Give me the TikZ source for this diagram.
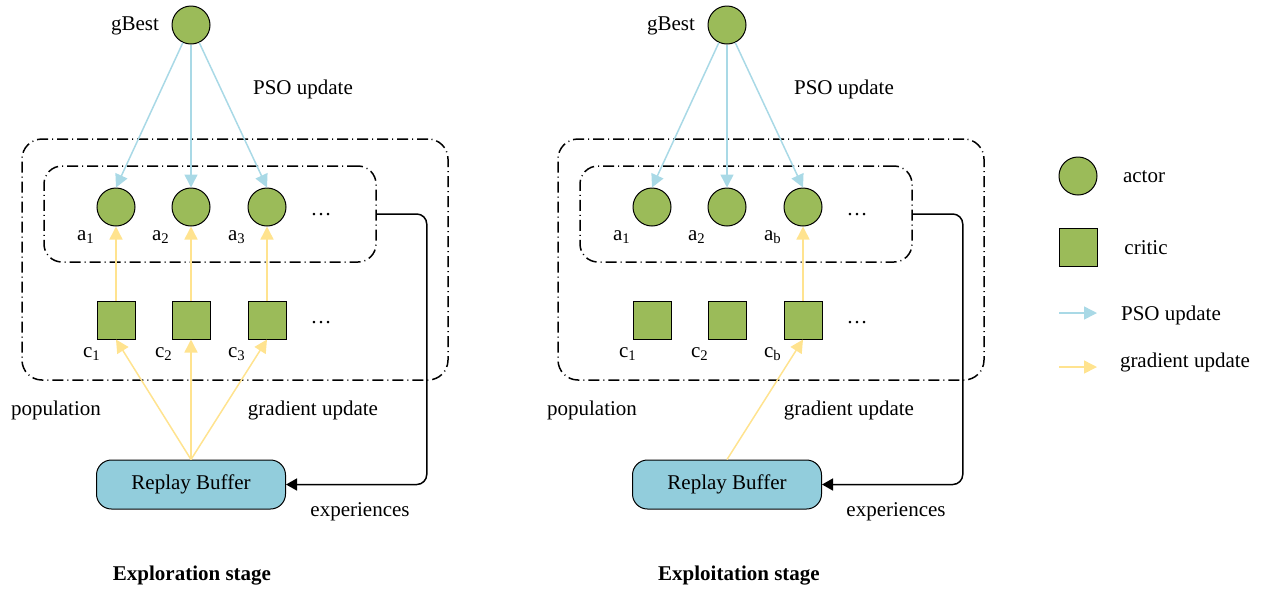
\documentclass[tikz,border=0pt]{standalone}
\usepackage{fontspec}
\setmainfont{Liberation Serif}
\usetikzlibrary{arrows.meta}
\definecolor{leafgreen}{HTML}{9BBB59}
\definecolor{psoblue}{HTML}{A9D9E6}
\definecolor{gradyellow}{HTML}{FFE38F}
\definecolor{bufblue}{HTML}{92CDDC}
\begin{document}
\begin{tikzpicture}
            \tikzset{x=0.5pt, y=-0.5pt, every node/.style={font=\fontsize{10.5}{12.6}\selectfont}}
            \tikzstyle{actor}=[circle, draw, fill=leafgreen, minimum size=19pt, inner sep=0pt, line width=0.5pt]
            \tikzstyle{critic}=[rectangle, draw, fill=leafgreen, minimum size=19pt, inner sep=0pt, line width=0.5pt]
            \tikzstyle{buffer}=[rectangle, rounded corners=7.5pt, draw, fill=bufblue, minimum width=94.5pt, minimum height=24.5pt, line width=0.5pt]
            \tikzstyle{group}=[rectangle, draw, line width=0.75pt, dash pattern=on 5.5pt off 2pt on 0.5pt off 2pt]
            \tikzstyle{pso}=[draw=psoblue, line width=0.75pt, -{Triangle[length=6.5pt, width=6.5pt]}]
            \tikzstyle{grad}=[draw=gradyellow, line width=0.75pt, -{Triangle[length=6.5pt, width=6.5pt]}]
            \tikzstyle{flow}=[draw, line width=0.75pt, rounded corners=5pt, -{Triangle[length=5.5pt, width=6pt]}]
            \useasboundingbox (0,0) rectangle (1262,591);

            % exploration stage
            \draw (235, 259.5)  node[group, rounded corners=10pt, minimum width=213pt, minimum height=120.5pt] (pop0) {};
            \draw (210, 214)    node[group, rounded corners=9pt, minimum width=166pt, minimum height=48pt] (act0) {};

            \draw (191, 25)     node[actor]     (g0)    {};
            \draw (135, 26)     node            (gl0)   {gBest};
            \draw (303, 89)     node            (pl0)   {PSO update};

            \draw (116, 207)    node[actor]     (a01)   {};
            \draw (191, 207)    node[actor]     (a02)   {};
            \draw (267, 207)    node[actor]     (a03)   {};
            \draw (321, 215)    node            (ad0)   {\ldots};
            \draw (86, 237)     node            (al01)  {a\textsubscript{1}};
            \draw (161, 237)    node            (al02)  {a\textsubscript{2}};
            \draw (237, 237)    node            (al03)  {a\textsubscript{3}};

            \draw (116, 320)    node[critic]    (c01)   {};
            \draw (191, 320)    node[critic]    (c02)   {};
            \draw (267, 320)    node[critic]    (c03)   {};
            \draw (321, 323)    node            (cd0)   {\ldots};
            \draw (92, 354)     node            (cl01)  {c\textsubscript{1}};
            \draw (164, 354)    node            (cl02)  {c\textsubscript{2}};
            \draw (237, 354)    node            (cl03)  {c\textsubscript{3}};

            \draw (56, 410)     node            (popl0) {population};
            \draw (313, 410)    node            (gul0)  {gradient update};
            \draw (191, 484.5)  node[buffer]    (buf0)  {Replay Buffer};
            \draw (360, 512)    node            (exl0)  {experiences};
            \draw (192, 576)    node            (st0)   {\textbf{Exploration stage}};

            \draw [pso]     (g0) -- (a01.north);
            \draw [pso]     (g0) -- (a02);
            \draw [pso]     (g0) -- (a03.north);
            \draw [grad]    (c01) -- (a01);
            \draw [grad]    (c02) -- (a02);
            \draw [grad]    (c03) -- (a03);
            \draw [grad]    (buf0.north) -- (c01.south);
            \draw [grad]    (buf0.north) -- (c02.south);
            \draw [grad]    (buf0.north) -- (c03.south);
            \draw [flow]    (act0.east) -- ++(50, 0) |- (buf0.east);

            % exploitation stage
            \draw (771, 259.5)  node[group, rounded corners=10pt, minimum width=213pt, minimum height=120.5pt] (pop1) {};
            \draw (746, 214)    node[group, rounded corners=9pt, minimum width=166pt, minimum height=48pt] (act1) {};

            \draw (727, 25)     node[actor]     (g1)    {};
            \draw (671, 26)     node            (gl1)   {gBest};
            \draw (844, 89)     node            (pl1)   {PSO update};

            \draw (652, 207)    node[actor]     (a11)   {};
            \draw (727, 207)    node[actor]     (a12)   {};
            \draw (803, 207)    node[actor]     (a13)   {};
            \draw (857, 215)    node            (ad1)   {\ldots};
            \draw (622, 237)    node            (al11)  {a\textsubscript{1}};
            \draw (697, 237)    node            (al12)  {a\textsubscript{2}};
            \draw (773, 237)    node            (al13)  {a\textsubscript{b}};

            \draw (652, 320)    node[critic]    (c11)   {};
            \draw (727, 320)    node[critic]    (c12)   {};
            \draw (803, 320)    node[critic]    (c13)   {};
            \draw (857, 323)    node            (cd1)   {\ldots};
            \draw (628, 354)    node            (cl11)  {c\textsubscript{1}};
            \draw (700, 354)    node            (cl12)  {c\textsubscript{2}};
            \draw (773, 354)    node            (cl13)  {c\textsubscript{b}};

            \draw (592, 410)    node            (popl1) {population};
            \draw (849, 410)    node            (gul1)  {gradient update};
            \draw (727, 484.5)  node[buffer]    (buf1)  {Replay Buffer};
            \draw (896, 512)    node            (exl1)  {experiences};
            \draw (739, 576)    node            (st1)   {\textbf{Exploitation stage}};

            \draw [pso]     (g1) -- (a11.north);
            \draw [pso]     (g1) -- (a12);
            \draw [pso]     (g1) -- (a13.north);
            \draw [grad]    (c13) -- (a13);
            \draw [grad]    (buf1.north) -- (c13.south);
            \draw [flow]    (act1.east) -- ++(50, 0) |- (buf1.east);

            % legend
            \draw (1078, 176)   node[actor]     (la)    {};
            \draw (1144, 177)   node            (lal)   {actor};
            \draw (1078, 247)   node[critic]    (lc)    {};
            \draw (1146, 248)   node            (lcl)   {critic};
            \coordinate (lp0) at (1059, 313);
            \coordinate (lp1) at (1097, 313);
            \draw (1171, 315)   node            (lpl)   {PSO update};
            \coordinate (lg0) at (1059, 367);
            \coordinate (lg1) at (1097, 367);
            \draw (1185, 362)   node            (lgl)   {gradient update};
            \draw [pso]     (lp0) -- (lp1);
            \draw [grad]    (lg0) -- (lg1);
        \end{tikzpicture}
\end{document}
